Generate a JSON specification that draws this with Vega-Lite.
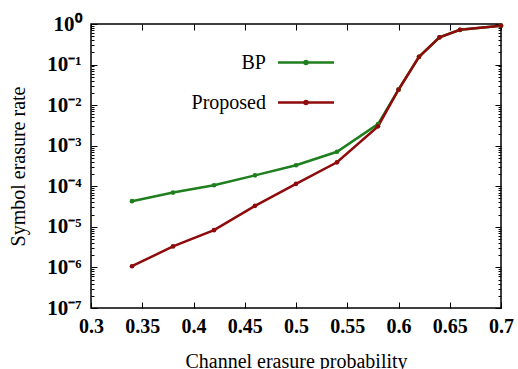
{
  "$schema": "https://vega.github.io/schema/vega-lite/v6.json",
  "width": 410,
  "height": 284,
  "autosize": {"type": "none"},
  "padding": {"left": 91, "top": 24, "right": 17, "bottom": 61},
  "background": "white",
  "config": {
    "view": {"stroke": "black", "strokeWidth": 1.5},
    "axis": {
      "domain": false,
      "grid": false,
      "tickColor": "black",
      "tickWidth": 1,
      "labelOverlap": false,
      "labelFlush": false
    }
  },
  "data": {
    "values": [
      {"p": 0.34, "rate": 4.3e-5, "method": "BP"},
      {"p": 0.38, "rate": 7.0e-5, "method": "BP"},
      {"p": 0.42, "rate": 1.06e-4, "method": "BP"},
      {"p": 0.46, "rate": 1.86e-4, "method": "BP"},
      {"p": 0.5, "rate": 3.3e-4, "method": "BP"},
      {"p": 0.54, "rate": 7.1e-4, "method": "BP"},
      {"p": 0.58, "rate": 3.4e-3, "method": "BP"},
      {"p": 0.6, "rate": 0.024, "method": "BP"},
      {"p": 0.62, "rate": 0.155, "method": "BP"},
      {"p": 0.64, "rate": 0.47, "method": "BP"},
      {"p": 0.66, "rate": 0.72, "method": "BP"},
      {"p": 0.7, "rate": 0.91, "method": "BP"},
      {"p": 0.34, "rate": 1.07e-6, "method": "Proposed"},
      {"p": 0.38, "rate": 3.3e-6, "method": "Proposed"},
      {"p": 0.42, "rate": 8.3e-6, "method": "Proposed"},
      {"p": 0.46, "rate": 3.3e-5, "method": "Proposed"},
      {"p": 0.5, "rate": 1.15e-4, "method": "Proposed"},
      {"p": 0.54, "rate": 3.9e-4, "method": "Proposed"},
      {"p": 0.58, "rate": 3.0e-3, "method": "Proposed"},
      {"p": 0.6, "rate": 0.024, "method": "Proposed"},
      {"p": 0.62, "rate": 0.155, "method": "Proposed"},
      {"p": 0.64, "rate": 0.47, "method": "Proposed"},
      {"p": 0.66, "rate": 0.72, "method": "Proposed"},
      {"p": 0.7, "rate": 0.91, "method": "Proposed"}
    ]
  },
  "layer": [
    {
      "mark": {"type": "line", "strokeWidth": 2.5, "clip": true},
      "encoding": {
        "x": {
          "field": "p", "type": "quantitative",
          "scale": {"domain": [0.3, 0.7], "nice": false, "zero": false},
          "axis": {
            "orient": "bottom",
            "title": "Channel erasure probability",
            "values": [0.3, 0.35, 0.4, 0.45, 0.5, 0.55, 0.6, 0.65, 0.7],
            "format": "~g",
            "tickSize": -6,
            "labelFont": "Liberation Serif",
            "labelFontSize": 20,
            "labelFontWeight": "bold",
            "labelColor": "black",
            "titleFont": "Liberation Serif",
            "titleFontSize": 20,
            "titleFontWeight": "normal",
            "titleColor": "black",
            "labelPadding": 14,
            "titlePadding": 15
          }
        },
        "y": {
          "field": "rate", "type": "quantitative",
          "scale": {"type": "log", "domain": [1e-7, 1], "nice": false},
          "axis": {
            "orient": "left",
            "title": "Symbol erasure rate",
            "values": [1e-7,2e-7,3e-7,4e-7,5e-7,6e-7,7e-7,8e-7,9e-7,1e-6,2e-6,3e-6,4e-6,5e-6,6e-6,7e-6,8e-6,9e-6,1e-5,2e-5,3e-5,4e-5,5e-5,6e-5,7e-5,8e-5,9e-5,1e-4,2e-4,3e-4,4e-4,5e-4,6e-4,7e-4,8e-4,9e-4,1e-3,2e-3,3e-3,4e-3,5e-3,6e-3,7e-3,8e-3,9e-3,1e-2,2e-2,3e-2,4e-2,5e-2,6e-2,7e-2,8e-2,9e-2,0.1,0.2,0.3,0.4,0.5,0.6,0.7,0.8,0.9,1],
            "labelExpr": "abs(log(datum.value)/LN10 - round(log(datum.value)/LN10)) < 0.001 ? ['10⁰','10⁻¹','10⁻²','10⁻³','10⁻⁴','10⁻⁵','10⁻⁶','10⁻⁷'][round(-log(datum.value)/LN10)] : ''",
            "tickSize": {"condition": {"test": "abs(log(datum.value)/LN10 - round(log(datum.value)/LN10)) < 0.001", "value": -6}, "value": -3},
            "labelFont": "Liberation Serif",
            "labelFontSize": 21,
            "labelFontWeight": "bold",
            "labelColor": "black",
            "titleFont": "Liberation Serif",
            "titleFontSize": 20,
            "titleFontWeight": "normal",
            "titleColor": "black",
            "labelPadding": 16,
            "titlePadding": 18
          }
        },
        "color": {
          "field": "method", "type": "nominal",
          "scale": {"domain": ["BP", "Proposed"], "range": ["#1f7f1f", "#8f0a0a"]},
          "legend": {
            "title": null,
            "orient": "none",
            "legendX": 85,
            "legendY": 9,
            "symbolType": "M-1,0L1,0M-0.054,0A0.054,0.054,0,1,1,0.054,0A0.054,0.054,0,1,1,-0.054,0Z",
            "symbolSize": 3136,
            "symbolStrokeWidth": 2.5,
            "rowPadding": -15,
            "labelFont": "Liberation Serif",
            "labelFontSize": 20,
            "labelColor": "black",
            "encode": {
              "labels": {"update": {"x": {"value": 90}, "align": {"value": "right"}}},
              "symbols": {"update": {"x": {"value": 130}, "fill": {"signal": "scale('color', datum.value)"}}}
            }
          }
        }
      }
    },
    {
      "mark": {"type": "point", "filled": true, "size": 22, "opacity": 1},
      "encoding": {
        "x": {
          "field": "p", "type": "quantitative",
          "axis": {
            "orient": "top", "title": null, "labels": false,
            "values": [0.3, 0.35, 0.4, 0.45, 0.5, 0.55, 0.6, 0.65, 0.7],
            "tickSize": -6
          }
        },
        "y": {
          "field": "rate", "type": "quantitative",
          "axis": {
            "orient": "right", "title": null, "labels": false,
            "values": [1e-7,2e-7,3e-7,4e-7,5e-7,6e-7,7e-7,8e-7,9e-7,1e-6,2e-6,3e-6,4e-6,5e-6,6e-6,7e-6,8e-6,9e-6,1e-5,2e-5,3e-5,4e-5,5e-5,6e-5,7e-5,8e-5,9e-5,1e-4,2e-4,3e-4,4e-4,5e-4,6e-4,7e-4,8e-4,9e-4,1e-3,2e-3,3e-3,4e-3,5e-3,6e-3,7e-3,8e-3,9e-3,1e-2,2e-2,3e-2,4e-2,5e-2,6e-2,7e-2,8e-2,9e-2,0.1,0.2,0.3,0.4,0.5,0.6,0.7,0.8,0.9,1],
            "tickSize": {"condition": {"test": "abs(log(datum.value)/LN10 - round(log(datum.value)/LN10)) < 0.001", "value": -6}, "value": -3}
          }
        },
        "color": {"field": "method", "type": "nominal", "legend": null}
      }
    }
  ]
}
